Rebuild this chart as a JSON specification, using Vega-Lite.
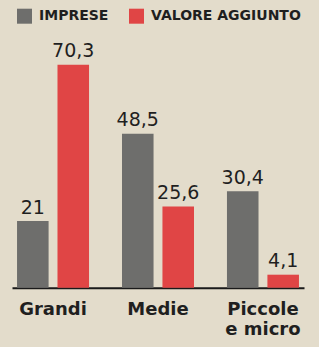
{
  "$schema": "https://vega.github.io/schema/vega-lite/v6.json",
  "width": 292,
  "height": 223,
  "autosize": {"type": "none"},
  "padding": {"left": 12, "top": 64.7, "right": 15, "bottom": 59.3},
  "background": "#e3dccb",
  "data": {
    "values": [
      {"categoria": "Grandi", "serie": "IMPRESE", "valore": 21, "label": "21"},
      {"categoria": "Grandi", "serie": "VALORE AGGIUNTO", "valore": 70.3, "label": "70,3"},
      {"categoria": "Medie", "serie": "IMPRESE", "valore": 48.5, "label": "48,5"},
      {"categoria": "Medie", "serie": "VALORE AGGIUNTO", "valore": 25.6, "label": "25,6"},
      {"categoria": "Piccole e micro", "serie": "IMPRESE", "valore": 30.4, "label": "30,4"},
      {"categoria": "Piccole e micro", "serie": "VALORE AGGIUNTO", "valore": 4.1, "label": "4,1"}
    ]
  },
  "encoding": {
    "x": {
      "field": "categoria",
      "type": "nominal",
      "sort": ["Grandi", "Medie", "Piccole e micro"],
      "scale": {"paddingInner": 0.314, "paddingOuter": 0.048},
      "axis": {
        "title": null,
        "ticks": false,
        "labelAngle": 0,
        "labelFont": "DejaVu Sans",
        "labelFontWeight": "bold",
        "labelFontSize": 18,
        "labelColor": "#1f1f1f",
        "labelPadding": 13,
        "labelLineHeight": 20,
        "labelExpr": "datum.value == 'Piccole e micro' ? ['Piccole', 'e micro'] : datum.label",
        "domainColor": "#1a1a1a",
        "domainWidth": 2
      }
    },
    "xOffset": {
      "field": "serie",
      "type": "nominal",
      "sort": ["IMPRESE", "VALORE AGGIUNTO"],
      "scale": {"paddingInner": 0.22, "paddingOuter": 0}
    },
    "y": {
      "field": "valore",
      "type": "quantitative",
      "scale": {"domain": [0, 70.3], "nice": false},
      "axis": null
    }
  },
  "layer": [
    {
      "mark": {"type": "bar"},
      "encoding": {
        "color": {
          "field": "serie",
          "type": "nominal",
          "scale": {"domain": ["IMPRESE", "VALORE AGGIUNTO"], "range": ["#6e6e6c", "#e04545"]},
          "legend": {
            "title": null,
            "orient": "none",
            "direction": "horizontal",
            "legendX": 5,
            "legendY": -56,
            "symbolType": "square",
            "symbolSize": 225,
            "symbolStrokeWidth": 0,
            "labelFont": "DejaVu Sans",
            "labelFontWeight": "bold",
            "labelFontSize": 14,
            "labelColor": "#1f1f1f",
            "labelOffset": 7,
            "columnPadding": 20
          }
        }
      }
    },
    {
      "mark": {"type": "text", "baseline": "alphabetic", "dy": -7.5, "font": "DejaVu Sans", "fontSize": 19, "color": "#1f1f1f"},
      "encoding": {
        "text": {"field": "label"}
      }
    }
  ],
  "config": {"view": {"stroke": null}}
}
